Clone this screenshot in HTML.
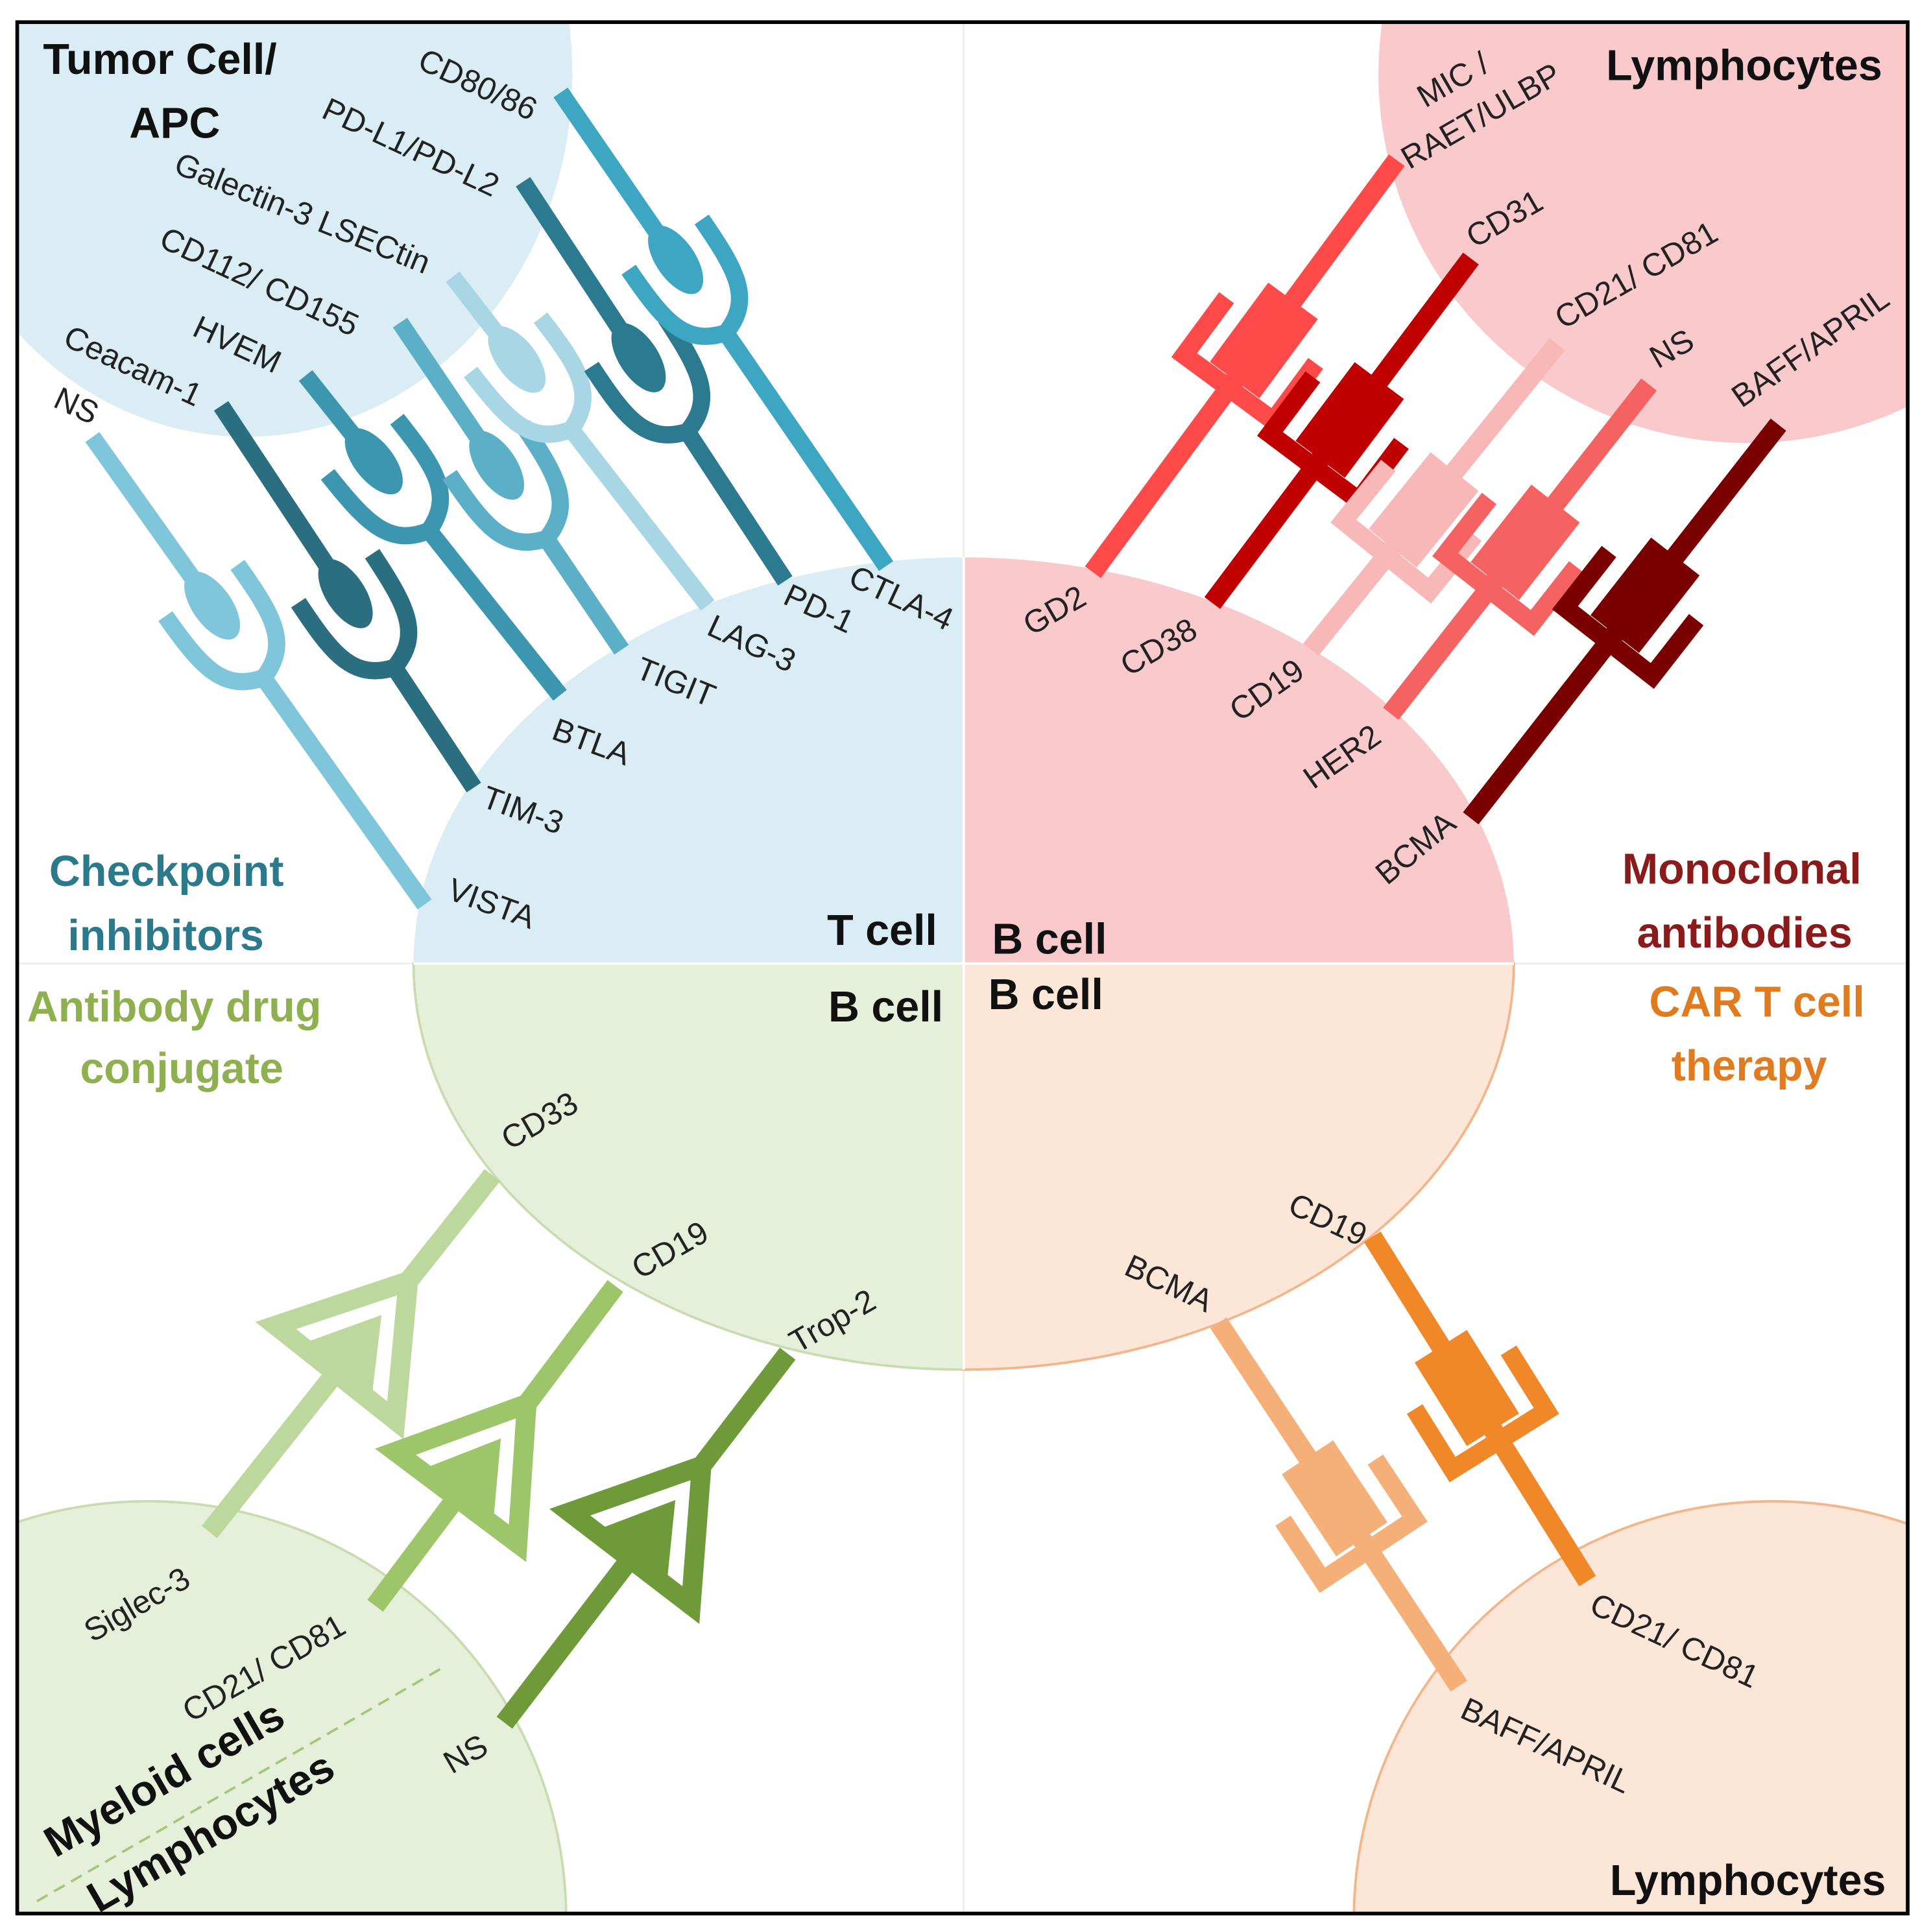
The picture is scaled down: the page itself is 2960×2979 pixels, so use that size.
<!DOCTYPE html>
<html><head><meta charset="utf-8"><style>
html,body{margin:0;padding:0;background:#fff;width:2960px;height:2979px;overflow:hidden;}
svg{display:block;position:absolute;left:0;top:0;}
text{font-family:"Liberation Sans",sans-serif;}
.s{font-size:26px;fill:#222;}
.b{font-size:35px;font-weight:bold;fill:#111;}
</style></head><body>
<svg width="2960" height="2979" viewBox="0 0 1560 1570" preserveAspectRatio="none" xmlns="http://www.w3.org/2000/svg">
<defs><clipPath id="box"><rect x="14" y="18" width="1536" height="1537"/></clipPath></defs>
<rect width="1560" height="1570" fill="#fff"/>
<g clip-path="url(#box)">
<line x1="783" y1="18" x2="783" y2="1555" stroke="#eee" stroke-width="1.5"/>
<line x1="14" y1="783" x2="1550" y2="783" stroke="#eee" stroke-width="1.5"/>
<ellipse cx="200" cy="60" rx="265" ry="295" fill="#daedf4"/>
<circle cx="1420" cy="60" r="300" fill="#f9c9cb"/>
<circle cx="120" cy="1560" r="340" fill="#e6efd9" stroke="#c8dcb0" stroke-width="2"/>
<circle cx="1440" cy="1560" r="340" fill="#fce6d8" stroke="#f3b68a" stroke-width="2"/>
<path d="M783,783 L336,783 A447,330 0 0 1 783,453 Z" fill="#daedf4"/>
<path d="M783,783 L783,453 A447,330 0 0 1 1230,783 Z" fill="#f9c9cb"/>
<path d="M783,783 L336,783 A447,330 0 0 0 783,1113 Z" fill="#e6efd9" stroke="#c8dcb0" stroke-width="2"/>
<path d="M783,783 L1230,783 A447,330 0 0 1 783,1113 Z" fill="#fce6d8" stroke="#f3b68a" stroke-width="2"/>
<line x1="783" y1="453" x2="783" y2="1113" stroke="#fff" stroke-width="2"/>
<line x1="336" y1="783" x2="1230" y2="783" stroke="#fff" stroke-width="2"/>

<!-- TL receptors -->
<g fill="none" stroke-width="14">
<g transform="translate(345,735) rotate(-35.4)" stroke="#80c6da"><line y2="-228"/><path d="M0,-226 C-34,-236 -36,-263 -36,-313 M0,-226 C34,-236 36,-263 36,-313"/><ellipse cy="-298" rx="16" ry="32" fill="#80c6da" stroke="none"/><line y1="-298" y2="-466"/></g>
<g transform="translate(385,640) rotate(-33.5)" stroke="#2a6e80"><line y2="-119"/><path d="M0,-117 C-34,-127 -36,-154 -36,-204 M0,-117 C34,-127 36,-154 36,-204"/><ellipse cy="-189" rx="16" ry="32" fill="#2a6e80" stroke="none"/><line y1="-189" y2="-372"/></g>
<g transform="translate(455,565) rotate(-38.5)" stroke="#3c96b0"><line y2="-173"/><path d="M0,-171 C-34,-181 -36,-208 -36,-258 M0,-171 C34,-181 36,-208 36,-258"/><ellipse cy="-243" rx="16" ry="32" fill="#3c96b0" stroke="none"/><line y1="-243" y2="-332"/></g>
<g transform="translate(505,528) rotate(-34.1)" stroke="#5bb0c8"><line y2="-111"/><path d="M0,-109 C-34,-119 -36,-146 -36,-196 M0,-109 C34,-119 36,-146 36,-196"/><ellipse cy="-181" rx="16" ry="32" fill="#5bb0c8" stroke="none"/><line y1="-181" y2="-321"/></g>
<g transform="translate(575,492) rotate(-37.8)" stroke="#a9d6e4"><line y2="-183"/><path d="M0,-181 C-34,-191 -36,-218 -36,-268 M0,-181 C34,-191 36,-218 36,-268"/><ellipse cy="-253" rx="16" ry="32" fill="#a9d6e4" stroke="none"/><line y1="-253" y2="-338"/></g>
<g transform="translate(638,472) rotate(-33.3)" stroke="#2b7a90"><line y2="-147"/><path d="M0,-145 C-34,-155 -36,-182 -36,-232 M0,-145 C34,-155 36,-182 36,-232"/><ellipse cy="-217" rx="16" ry="32" fill="#2b7a90" stroke="none"/><line y1="-217" y2="-388"/></g>
<g transform="translate(720,460) rotate(-34.5)" stroke="#3da6c2"><line y2="-232"/><path d="M0,-230 C-34,-240 -36,-267 -36,-317 M0,-230 C34,-240 36,-267 36,-317"/><ellipse cy="-302" rx="16" ry="32" fill="#3da6c2" stroke="none"/><line y1="-302" y2="-467"/></g>
</g>

<!-- TR antibodies -->
<g stroke-width="16" fill="none">
<g transform="translate(888,465) rotate(36.4)" stroke="#ff4a4a"><line y2="-416"/><rect x="-25" y="-274" width="50" height="80" fill="#ff4a4a" stroke="none"/><path d="M-45,-244 L-45,-186 L45,-186 L45,-244" stroke-width="15"/></g>
<g transform="translate(985,490) rotate(36.9)" stroke="#c00000"><line y2="-350"/><rect x="-25" y="-226" width="50" height="80" fill="#c00000" stroke="none"/><path d="M-45,-196 L-45,-138 L45,-138 L45,-196" stroke-width="15"/></g>
<g transform="translate(1065,528) rotate(38.9)" stroke="#f8b8b8"><line y2="-319"/><rect x="-25" y="-186" width="50" height="80" fill="#f8b8b8" stroke="none"/><path d="M-45,-156 L-45,-98 L45,-98 L45,-156" stroke-width="15"/></g>
<g transform="translate(1130,580) rotate(38.1)" stroke="#f46262"><line y2="-340"/><rect x="-25" y="-217" width="50" height="80" fill="#f46262" stroke="none"/><path d="M-45,-187 L-45,-129 L45,-129 L45,-187" stroke-width="15"/></g>
<g transform="translate(1195,665) rotate(38)" stroke="#7a0000"><line y2="-406"/><rect x="-25" y="-270" width="50" height="80" fill="#7a0000" stroke="none"/><path d="M-45,-240 L-45,-182 L45,-182 L45,-240" stroke-width="15"/></g>
</g>

<!-- BL ADC -->
<g stroke-width="16" fill="none">
<g transform="translate(400,955) rotate(218.4)" stroke="#bcd89c"><line y2="-110"/><path d="M0,-110 L-62,-205 L62,-205 Z" stroke-width="16" stroke-linejoin="miter"/><polygon points="0,-145 -34,-200 34,-200" fill="#bcd89c" stroke="none"/><line y1="-200" y2="-370"/></g>
<g transform="translate(500,1045) rotate(216.9)" stroke="#9dc66a"><line y2="-120"/><path d="M0,-120 L-62,-215 L62,-215 Z" stroke-width="16"/><polygon points="0,-155 -34,-210 34,-210" fill="#9dc66a" stroke="none"/><line y1="-210" y2="-325"/></g>
<g transform="translate(640,1100) rotate(217.5)" stroke="#6e9a3a"><line y2="-115"/><path d="M0,-115 L-62,-210 L62,-210 Z" stroke-width="16"/><polygon points="0,-150 -34,-205 34,-205" fill="#6e9a3a" stroke="none"/><line y1="-205" y2="-378"/></g>
</g>

<!-- BR CAR T -->
<g stroke-width="16" fill="none">
<g transform="translate(990,1075) rotate(146.5)" stroke="#f5b07a"><line y2="-354"/><path d="M-45,-163 L-45,-221 L45,-221 L45,-163" stroke-width="15"/><rect x="-25" y="-211" width="50" height="80" fill="#f5b07a" stroke="none"/></g>
<g transform="translate(1115,1005) rotate(148)" stroke="#f0882a"><line y2="-330"/><path d="M-45,-137 L-45,-195 L45,-195 L45,-137" stroke-width="15"/><rect x="-25" y="-185" width="50" height="80" fill="#f0882a" stroke="none"/></g>
</g>

<line x1="30" y1="1545" x2="360" y2="1355" stroke="#a6c67a" stroke-width="2" stroke-dasharray="10,6"/>

<!-- Labels TL -->
<text class="b" x="35" y="60">Tumor Cell/</text>
<text class="b" x="105" y="112">APC</text>
<text class="s" transform="translate(338,55) rotate(25)">CD80/86</text>
<text class="s" transform="translate(260,95) rotate(25)">PD-L1/PD-L2</text>
<text class="s" transform="translate(140,140) rotate(22)">Galectin-3 LSECtin</text>
<text class="s" transform="translate(128,200) rotate(25)">CD112/ CD155</text>
<text class="s" transform="translate(155,272) rotate(25)">HVEM</text>
<text class="s" transform="translate(50,280) rotate(25)">Ceacam-1</text>
<text class="s" transform="translate(42,330) rotate(25)">NS</text>
<text class="s" transform="translate(688,475) rotate(25)">CTLA-4</text>
<text class="s" transform="translate(635,490) rotate(25)">PD-1</text>
<text class="s" transform="translate(573,515) rotate(25)">LAG-3</text>
<text class="s" transform="translate(515,550) rotate(22)">TIGIT</text>
<text class="s" transform="translate(447,600) rotate(20)">BTLA</text>
<text class="s" transform="translate(390,655) rotate(20)">TIM-3</text>
<text class="s" transform="translate(362,730) rotate(20)">VISTA</text>
<text class="b" x="672" y="768">T cell</text>
<text class="b" x="806" y="775">B cell</text>
<text class="b" x="673" y="830">B cell</text>
<text class="b" x="803" y="820">B cell</text>
<!-- TR -->
<text class="b" x="1305" y="65">Lymphocytes</text>
<text class="s" transform="translate(1158,88) rotate(-30)">MIC /</text>
<text class="s" transform="translate(1145,138) rotate(-30)">RAET/ULBP</text>
<text class="s" transform="translate(1198,202) rotate(-30)">CD31</text>
<text class="s" transform="translate(1270,268) rotate(-30)">CD21/ CD81</text>
<text class="s" transform="translate(1347,300) rotate(-30)">NS</text>
<text class="s" transform="translate(1415,332) rotate(-35)">BAFF/APRIL</text>
<text class="s" transform="translate(838,517) rotate(-30)">GD2</text>
<text class="s" transform="translate(917,550) rotate(-30)">CD38</text>
<text class="s" transform="translate(1007,587) rotate(-35)">CD19</text>
<text class="s" transform="translate(1067,642) rotate(-35)">HER2</text>
<text class="s" transform="translate(1127,720) rotate(-40)">BCMA</text>
<text class="b" x="40" y="720" style="fill:#2b7a8c">Checkpoint</text>
<text class="b" x="55" y="772" style="fill:#2b7a8c">inhibitors</text>
<text class="b" x="1318" y="718" style="fill:#8b1a1a">Monoclonal</text>
<text class="b" x="1330" y="770" style="fill:#8b1a1a">antibodies</text>
<text class="b" x="22" y="830" style="fill:#8fb04f">Antibody drug</text>
<text class="b" x="65" y="880" style="fill:#8fb04f">conjugate</text>
<text class="b" x="1340" y="826" style="fill:#e07b20">CAR T cell</text>
<text class="b" x="1358" y="878" style="fill:#e07b20">therapy</text>
<!-- BL -->
<text class="s" transform="translate(414,935) rotate(-30)">CD33</text>
<text class="s" transform="translate(520,1040) rotate(-30)">CD19</text>
<text class="s" transform="translate(648,1100) rotate(-30)">Trop-2</text>
<text class="s" transform="translate(75,1335) rotate(-30)">Siglec-3</text>
<text class="s" transform="translate(155,1400) rotate(-30)">CD21/ CD81</text>
<text class="s" transform="translate(367,1442) rotate(-30)">NS</text>
<text class="b" transform="translate(45,1510) rotate(-30)">Myeloid cells</text>
<text class="b" transform="translate(80,1555) rotate(-30)">Lymphocytes</text>
<!-- BR -->
<text class="s" transform="translate(1045,985) rotate(25)">CD19</text>
<text class="s" transform="translate(912,1035) rotate(25)">BCMA</text>
<text class="s" transform="translate(1290,1310) rotate(25)">CD21/ CD81</text>
<text class="s" transform="translate(1185,1395) rotate(25)">BAFF/APRIL</text>
<text class="b" x="1308" y="1540">Lymphocytes</text>
</g>
<rect x="14" y="18" width="1536" height="1537" fill="none" stroke="#000" stroke-width="3"/>
</svg>
</body></html>
